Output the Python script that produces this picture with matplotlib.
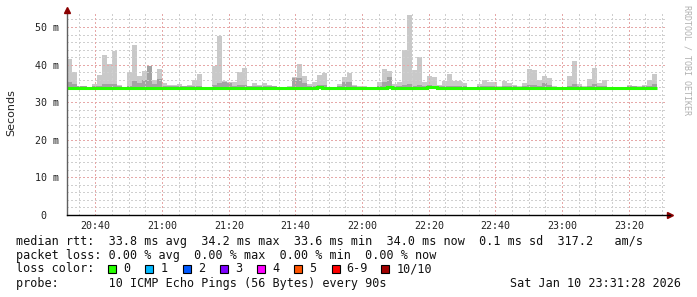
import numpy as np
import matplotlib
matplotlib.use("Agg")
import matplotlib.pyplot as plt

W, H, DPI = 697, 297, 100

# ---- data -------------------------------------------------------------
start_min = 20 * 60 + 31 + 28 / 60.0   # 20:31:28
step_min = 1.5                          # 90 s probe step
span_min = 180.0

rtt_max = [41.5, 38.0, 34.3, 34.4, 34.0, 34.8, 37.2, 42.6, 40.2, 43.7,
           34.5, 34.0, 38.0, 45.3, 37.0, 38.3, 39.6, 35.9, 38.7, 35.0,
           34.5, 34.5, 34.8, 34.4, 34.6, 36.0, 37.5, 34.0, 34.1, 39.6,
           47.6, 35.7, 35.5, 35.4, 38.1, 39.0, 34.4, 35.1, 34.5, 35.0,
           34.5, 34.4, 34.0, 34.0, 34.3, 36.6, 40.2, 37.0, 34.8, 35.3,
           37.2, 37.8, 34.0, 34.0, 34.8, 36.8, 37.8, 34.5, 34.3, 34.2,
           34.1, 34.0, 35.4, 38.7, 38.2, 34.8, 35.4, 43.9, 53.2, 38.6,
           41.9, 35.4, 37.0, 36.7, 34.5, 35.7, 37.5, 35.7, 35.6, 35.2,
           34.0, 34.0, 34.8, 35.9, 35.5, 35.5, 34.3, 35.7, 35.2, 34.6,
           34.2, 35.0, 38.8, 38.6, 36.0, 37.0, 36.5, 34.3, 34.0, 34.0,
           37.0, 41.0, 34.8, 34.4, 36.1, 39.0, 35.0, 36.0, 34.0, 34.0,
           34.0, 34.0, 34.5, 34.4, 34.3, 34.6, 36.0, 37.5]

rtt_upper = [35.5, 34.8, 34.2, 34.3, 34.1, 34.2, 34.3, 34.8, 34.8, 34.8,
             34.3, 34.0, 34.3, 35.6, 35.0, 36.0, 39.6, 34.8, 36.2, 34.3,
             34.2, 34.2, 34.3, 34.2, 34.2, 34.3, 34.3, 34.0, 34.0, 34.6,
             35.0, 35.5, 35.2, 34.3, 34.5, 34.5, 34.2, 34.3, 34.2, 34.3,
             34.2, 34.2, 34.0, 34.0, 34.1, 36.5, 36.5, 35.0, 34.3, 34.3,
             34.6, 34.5, 34.0, 34.0, 34.2, 35.5, 35.5, 34.2, 34.1, 34.0,
             34.0, 34.0, 34.3, 35.5, 36.8, 34.3, 34.3, 34.5, 34.8, 34.4,
             34.6, 34.3, 34.5, 34.4, 34.2, 34.3, 34.4, 34.3, 34.3, 34.3,
             34.0, 34.0, 34.2, 34.4, 34.3, 34.3, 34.1, 34.3, 34.3, 34.2,
             34.1, 34.2, 34.6, 34.5, 34.3, 35.1, 34.6, 34.1, 34.0, 34.0,
             34.3, 34.9, 34.2, 34.1, 34.4, 34.8, 34.3, 34.3, 34.0, 34.0,
             34.0, 34.0, 34.3, 34.2, 34.1, 34.3, 34.4, 34.8]

rtt_min = [33.4] * 118

rtt_median = [33.8, 33.8, 33.8, 33.9, 33.8, 33.8, 33.8, 33.9, 33.9, 33.9,
              33.9, 33.7, 33.7, 33.8, 33.8, 33.8, 33.8, 33.8, 33.8, 33.8,
              33.8, 33.8, 33.8, 33.8, 33.8, 33.8, 33.8, 33.8, 33.8, 33.8,
              33.8, 33.8, 33.8, 33.8, 33.8, 33.8, 33.8, 33.8, 33.8, 33.8,
              33.8, 33.8, 33.8, 33.8, 33.8, 33.8, 33.9, 33.8, 33.8, 33.8,
              34.1, 33.8, 33.7, 33.7, 33.8, 33.8, 33.8, 33.8, 33.8, 33.8,
              33.8, 33.8, 33.8, 33.8, 34.1, 33.7, 33.8, 33.8, 33.8, 33.8,
              33.8, 33.8, 34.0, 34.0, 33.8, 33.8, 33.8, 33.9, 33.9, 33.8,
              33.8, 33.8, 33.8, 33.8, 33.8, 33.8, 33.8, 33.8, 33.8, 33.8,
              33.8, 33.8, 33.8, 33.9, 33.8, 33.8, 33.8, 33.8, 33.8, 33.8,
              33.8, 33.8, 33.8, 33.8, 33.8, 33.8, 33.8, 33.8, 33.8, 33.8,
              33.8, 33.8, 33.8, 33.8, 33.8, 33.8, 33.8, 33.8]

xtick_minutes = [1240, 1260, 1280, 1300, 1320, 1340, 1360, 1380, 1400]
xtick_labels = ["20:40", "21:00", "21:20", "21:40", "22:00",
                "22:20", "22:40", "23:00", "23:20"]
ytick_values = [0, 10, 20, 30, 40, 50]
ytick_labels = ["0  ", "10 m", "20 m", "30 m", "40 m", "50 m"]

legend_rtt = "median rtt:  33.8 ms avg  34.2 ms max  33.6 ms min  34.0 ms now  0.1 ms sd  317.2   am/s"
legend_loss = "packet loss: 0.00 % avg  0.00 % max  0.00 % min  0.00 % now"
loss_labels = ["0", "1", "2", "3", "4", "5", "6-9", "10/10"]
loss_colors = ["#26ff00", "#00b8ff", "#0059ff", "#7e00ff", "#ff00ff",
               "#ff5500", "#ff0000", "#a10000"]
probe_text = "probe:       10 ICMP Echo Pings (56 Bytes) every 90s"
date_text = "Sat Jan 10 23:31:28 2026"

# ---- figure -----------------------------------------------------------
MONO = "DejaVu Sans Mono"
fig = plt.figure(figsize=(W / DPI, H / DPI), dpi=DPI, facecolor="white")
ax_l, ax_b, ax_w, ax_h = 67, 82, 600, 203
ax = fig.add_axes([ax_l / W, ax_b / H, ax_w / W, ax_h / H])
ax.set_facecolor("white")
ymax = ax_h / 3.76
ax.set_xlim(start_min, start_min + span_min)
ax.set_ylim(0, ymax)

n = len(rtt_max)
edges = start_min + step_min * np.arange(n + 1)

# smoke
ax.stairs(rtt_max, edges, baseline=rtt_min, fill=True, color="#c9c9c9",
          lw=0, zorder=2)
ax.stairs(rtt_upper, edges, baseline=rtt_min, fill=True, color="#a3a3a3",
          lw=0, zorder=3)

# grid (drawn on top of smoke), crisp dotted 1px lines
dot = (0, (1, 2))
gkw = dict(lw=0.75, ls=dot, zorder=4, antialiased=False)
for v in np.arange(2, ymax, 2):
    if v % 10 == 0:
        continue
    ax.axhline(v, color="#cfcfcf", **gkw)
for v in [10, 20, 30, 40, 50]:
    ax.axhline(v, color="#e6a8a8", **gkw)
m = np.ceil(start_min / 5) * 5
while m < start_min + span_min:
    if m % 20 != 0:
        ax.axvline(m, color="#cfcfcf", **gkw)
    m += 5
for m in xtick_minutes:
    ax.axvline(m, color="#e6a8a8", **gkw)

# median line
ax.stairs(rtt_median, edges, baseline=None, fill=False, color="#26ff00",
          lw=2.2, zorder=5)

# axes
for s in ["top", "right"]:
    ax.spines[s].set_visible(False)
ax.spines["left"].set_color("#606060")
ax.spines["bottom"].set_color("black")
ax.spines["left"].set_linewidth(1.0)
ax.spines["bottom"].set_linewidth(1.0)
ax.spines["left"].set_zorder(6)
ax.spines["bottom"].set_zorder(6)

ax.set_xticks(xtick_minutes)
ax.set_xticklabels(xtick_labels, fontfamily=MONO, fontsize=7.2, color="#222222")
ax.set_yticks(ytick_values)
ax.set_yticklabels(ytick_labels, fontfamily=MONO, fontsize=7.2, color="#222222")
ax.tick_params(axis="x", length=0, pad=4)
ax.tick_params(axis="y", length=0, pad=6)

# arrows
ax.plot([0], [1.01], marker="^", color="#8b0000", markersize=4,
        transform=ax.transAxes, clip_on=False, zorder=7)
ax.plot([1.0 + 3 / ax_w], [0], marker=">", color="#8b0000", markersize=4,
        transform=ax.transAxes, clip_on=False, zorder=7)
ax.plot([1.0, 1.0 + 3 / ax_w], [0, 0], color="black", lw=1.0,
        transform=ax.transAxes, clip_on=False, zorder=7)

# labels
fig.text(11 / W, 1 - 113 / H, "Seconds", rotation=90, ha="center", va="center",
         fontsize=8, fontfamily="DejaVu Sans", color="#222222")
fig.text(687 / W, 1 - 5 / H, "RRDTOOL / TOBI OETIKER", rotation=270,
         ha="center", va="top", fontsize=6, fontfamily=MONO, color="#b0b0b0")

# legend rows
fs = 8.5
def fy(y):
    return 1 - y / H

fig.text(16 / W, fy(241), legend_rtt, ha="left", va="center",
         fontsize=fs, fontfamily=MONO, color="#111111")
fig.text(16 / W, fy(255.5), legend_loss, ha="left", va="center",
         fontsize=fs, fontfamily=MONO, color="#111111")
fig.text(16 / W, fy(269), "loss color:", ha="left", va="center",
         fontsize=fs, fontfamily=MONO, color="#111111")
box_x = [108, 145.3, 182.7, 220, 256.9, 294.2, 331.6, 381.3]
for bx, lab, col in zip(box_x, loss_labels, loss_colors):
    fig.patches.append(plt.Rectangle((bx / W, fy(273)), 8 / W, 8 / H,
                                     transform=fig.transFigure,
                                     facecolor=col, edgecolor="black", lw=0.8))
    fig.text((bx + 15) / W, fy(269), lab, ha="left", va="center",
             fontsize=fs, fontfamily=MONO, color="#111111")
fig.text(16 / W, fy(283.5), probe_text, ha="left", va="center",
         fontsize=fs, fontfamily=MONO, color="#111111")
fig.text(681 / W, fy(283.5), date_text, ha="right", va="center",
         fontsize=fs, fontfamily=MONO, color="#111111")

fig.savefig("out.png", dpi=DPI, facecolor="white")
